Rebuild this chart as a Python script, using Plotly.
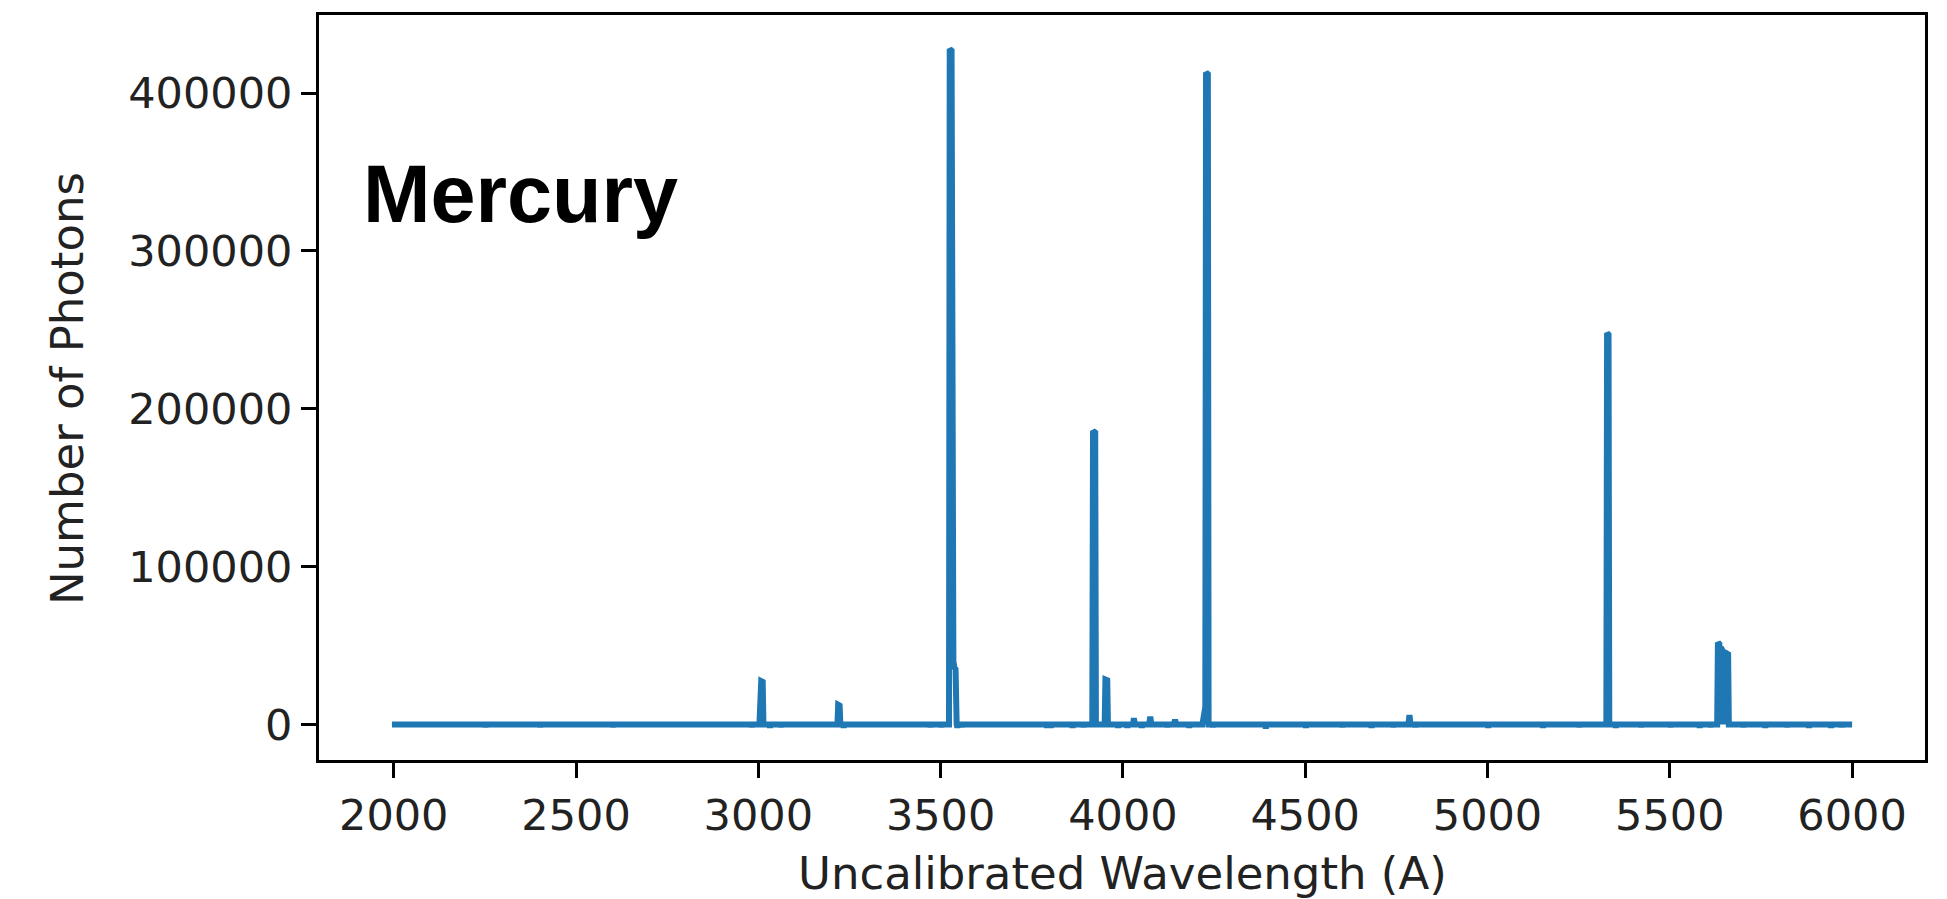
import plotly.graph_objects as go

# Wavelength (A) and photon counts (line-aligned)
wavelength = [
    1995,
    2250, 2252, 2254,
    2400, 2402, 2404,
    2600, 2602, 2604,
    2980, 2982, 2984,
    3003, 3005, 3008, 3012, 3014,
    3030, 3032, 3034,
    3060, 3062, 3064,
    3217, 3219, 3223, 3225,
    3232, 3234, 3236,
    3470, 3472, 3474,
    3500, 3502, 3504,
    3523, 3525, 3530, 3532, 3535, 3538, 3541, 3544,
    3546, 3548,
    3556, 3558, 3560,
    3790, 3792, 3794,
    3800, 3802, 3804,
    3860, 3862, 3864,
    3890, 3892, 3894,
    3916, 3918, 3924, 3926,
    3950, 3952, 3957, 3959,
    3985, 3987, 3989,
    4010, 4012, 4014,
    4028, 4030, 4033,
    4050, 4052, 4054,
    4072, 4075, 4078,
    4120, 4122, 4124,
    4140, 4143, 4146,
    4180, 4182, 4184,
    4218, 4222, 4226, 4228, 4233, 4235,
    4245, 4247, 4249,
    4390, 4392, 4394,
    4500, 4502, 4504,
    4600, 4602, 4604,
    4680, 4682, 4684,
    4740, 4742, 4744,
    4783, 4786, 4789,
    4800, 4802, 4804,
    5000, 5002, 5004,
    5150, 5152, 5154,
    5250, 5252, 5254,
    5326, 5328, 5332, 5334,
    5350, 5352, 5354,
    5420, 5422, 5424,
    5500, 5502, 5504,
    5580, 5582, 5584,
    5610, 5612, 5614,
    5630, 5632, 5634, 5636, 5638, 5640, 5642, 5644, 5646,
    5648, 5650, 5652, 5654, 5656, 5658, 5660, 5662,
    5700, 5702, 5704,
    5760, 5762, 5764,
    5820, 5822, 5824,
    5880, 5882, 5884,
    5940, 5942, 5944,
    5970, 5972, 5974,
    6000,
]
photons = [
    0,
    0, -1500, 0,
    0, -1500, 0,
    0, -1500, 0,
    0, -1500, 0,
    0, 26000, 27500, 27000, 0,
    0, -2000, 0,
    0, -1500, 0,
    0, 12500, 12000, 0,
    0, -2000, 0,
    0, -1500, 0,
    0, -1500, 0,
    0, 428000, 427000, 43000, 40000, 36000, 35000, 0,
    -2000, 0,
    0, -1500, 0,
    0, -2000, 0,
    0, -2000, 0,
    0, -2000, 0,
    0, -1500, 0,
    0, 186000, 185000, 0,
    0, 28500, 28000, 0,
    0, -2000, 0,
    0, -2000, 0,
    0, 4000, 0,
    0, -2000, 0,
    0, 5000, 0,
    0, -1500, 0,
    0, 3000, 0,
    0, -2000, 0,
    0, 5000, 11000, 413000, 412000, 0,
    0, -1500, 0,
    0, -2500, 0,
    0, -2000, 0,
    0, -1500, 0,
    0, -2000, 0,
    0, -1500, 0,
    0, 6000, 0,
    0, -1500, 0,
    0, -2000, 0,
    0, -2000, 0,
    0, -1500, 0,
    0, 248000, 247000, 0,
    0, -2000, 0,
    0, -1500, 0,
    0, -1500, 0,
    0, -2000, 0,
    0, -1500, 0,
    0, 52000, 0, 51000, 0, 49000, 0, 47000, 0,
    46000, 0, 45500, 0, 45000, 0, 44500, 0,
    0, -1500, 0,
    0, -2000, 0,
    0, -1500, 0,
    0, -2000, 0,
    0, -2000, 0,
    0, -1500, 0,
    0,
]

x_ticks = [2000, 2500, 3000, 3500, 4000, 4500, 5000, 5500, 6000]
y_ticks = [0, 100000, 200000, 300000, 400000]

x_title = "Uncalibrated Wavelength (A)"
y_title = "Number of Photons"
label_text = "Mercury"

fig = go.Figure()
fig.add_trace(go.Scatter(
    x=wavelength, y=photons, mode="lines",
    line=dict(color="#1f77b4", width=6),
    showlegend=False,
))

axis_common = dict(
    showline=True, mirror=True, linecolor="black", linewidth=3,
    ticks="outside", ticklen=15, tickwidth=3, tickcolor="black",
    showgrid=False, zeroline=False, automargin=False,
    tickfont=dict(family="DejaVu Sans", size=43, color="#222"),
)

title_font = dict(family="DejaVu Sans", size=45, color="#222")

fig.update_layout(
    width=1947, height=899,
    margin=dict(l=319, r=22, t=15, b=139),
    paper_bgcolor="white", plot_bgcolor="white",
    xaxis=dict(
        range=[1795, 6200],
        tickvals=x_ticks, ticktext=[str(v) for v in x_ticks],
        **axis_common,
    ),
    yaxis=dict(
        range=[-22500, 449500],
        tickvals=y_ticks, ticktext=[str(v) for v in y_ticks],
        **axis_common,
    ),
    annotations=[
        dict(
            text="<b>" + label_text + "</b>", xref="paper", yref="paper",
            x=0.026, y=0.76, xanchor="left", yanchor="middle", showarrow=False,
            font=dict(family="Liberation Sans", size=81, color="black"),
        ),
        dict(
            text=x_title, xref="paper", yref="paper",
            x=0.5, y=-0.152, xanchor="center", yanchor="middle", showarrow=False,
            font=title_font,
        ),
        dict(
            text=y_title, xref="paper", yref="paper", textangle=-90,
            x=-0.157, y=0.499, xanchor="center", yanchor="middle", showarrow=False,
            font=title_font,
        ),
    ],
)

fig.write_html("out.html")
